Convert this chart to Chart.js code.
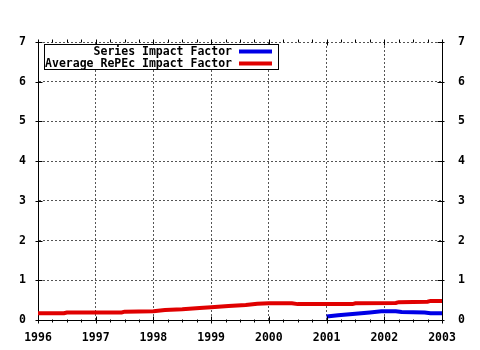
<!DOCTYPE html>
<html>
<head>
<meta charset="utf-8">
<script src="https://cdn.jsdelivr.net/npm/chart.js@4/dist/chart.umd.min.js"></script>
<style>
html,body{margin:0;padding:0;background:#fff;}
#c{display:block;}
</style>
</head>
<body>
<canvas id="c" width="480" height="350"></canvas>
<script>
// ---- data ----
const seriesNames = ["Series Impact Factor", "Average RePEc Impact Factor"];
const seriesYears = [2001.0, 2001.2, 2001.5, 2001.75, 2001.95, 2002.2, 2002.3, 2002.7, 2002.8, 2003.0];
const seriesValues = [0.09, 0.12, 0.16, 0.19, 0.22, 0.22, 0.20, 0.19, 0.17, 0.17];
const averageYears = [1996.0, 1996.45, 1996.5, 1997.45, 1997.5, 1998.0, 1998.2, 1998.5, 1998.8, 1999.0, 1999.3, 1999.6, 1999.8, 2000.0, 2000.4, 2000.5, 2001.45, 2001.5, 2002.2, 2002.25, 2002.75, 2002.8, 2003.0];
const averageValues = [0.17, 0.17, 0.19, 0.19, 0.21, 0.22, 0.25, 0.27, 0.30, 0.32, 0.35, 0.38, 0.41, 0.42, 0.42, 0.40, 0.40, 0.42, 0.43, 0.45, 0.46, 0.48, 0.48];
const yearTicks = [1996, 1997, 1998, 1999, 2000, 2001, 2002, 2003];
const yTicks = [0, 1, 2, 3, 4, 5, 6, 7];
const colors = ["#0000e6", "#e00000"];

const FONT = {family: "'DejaVu Sans Mono', monospace", size: 11.5, weight: 'bold'};
const toXY = (xs, ys) => xs.map((x, i) => ({x: x, y: ys[i]}));

const decor = {
  id: 'decor',
  afterDraw(chart) {
    const ctx = chart.ctx;
    const xs = chart.scales.x, ys = chart.scales.y;
    const a = chart.chartArea;
    const L = Math.round(a.left) + 0.5, R = Math.round(a.right) - 0.5;
    const T = Math.round(a.top) + 0.5, B = Math.round(a.bottom) - 0.5;
    ctx.save();
    ctx.strokeStyle = '#000';
    ctx.lineWidth = 1;
    ctx.beginPath();
    yTicks.forEach(v => {
      const y = Math.round(ys.getPixelForValue(v)) + 0.5;
      ctx.moveTo(L - 3, y); ctx.lineTo(L + 4, y);
      ctx.moveTo(R - 4, y); ctx.lineTo(R + 3, y);
    });
    for (let q = yearTicks[0] * 4; q <= yearTicks[yearTicks.length - 1] * 4; q++) {
      const v = q / 4;
      const x = Math.round(xs.getPixelForValue(v)) + 0.5;
      if (q % 4 === 0) {
        ctx.moveTo(x, B - 3); ctx.lineTo(x, B + 4);
        ctx.moveTo(x, T - 3); ctx.lineTo(x, T + 3);
      } else {
        ctx.moveTo(x, B); ctx.lineTo(x, B + 3);
        ctx.moveTo(x, T - 3); ctx.lineTo(x, T);
      }
    }
    ctx.stroke();

    // legend box
    const bx = 44.5, by = 44.5, bw = 234, bh = 25;
    ctx.fillStyle = '#fff';
    ctx.fillRect(bx, by, bw, bh);
    ctx.strokeRect(bx, by, bw, bh);
    ctx.font = 'bold 11.5px "DejaVu Sans Mono", monospace';
    ctx.textAlign = 'right';
    ctx.textBaseline = 'middle';
    ctx.fillStyle = '#000';
    const rows = [51.5, 63.5];
    seriesNames.forEach((name, i) => {
      ctx.fillText(name, 232, rows[i] + 0.5);
      ctx.strokeStyle = colors[i];
      ctx.lineWidth = 4;
      ctx.beginPath();
      ctx.moveTo(239, rows[i]);
      ctx.lineTo(272, rows[i]);
      ctx.stroke();
    });
    ctx.restore();
  }
};

new Chart(document.getElementById('c'), {
  type: 'line',
  data: {
    datasets: [
      {label: seriesNames[0], data: toXY(seriesYears, seriesValues), borderColor: colors[0], backgroundColor: colors[0], borderWidth: 4, pointRadius: 0, tension: 0, fill: false, borderCapStyle: 'butt'},
      {label: seriesNames[1], data: toXY(averageYears, averageValues), borderColor: colors[1], backgroundColor: colors[1], borderWidth: 4, pointRadius: 0, tension: 0, fill: false, borderCapStyle: 'butt'}
    ]
  },
  options: {
    responsive: false,
    animation: false,
    devicePixelRatio: 1,
    layout: {padding: {top: 42, left: 0, right: 0, bottom: 0}},
    plugins: {legend: {display: false}, tooltip: {enabled: false}},
    scales: {
      x: {
        type: 'linear',
        min: yearTicks[0], max: yearTicks[yearTicks.length - 1],
        afterBuildTicks: s => { s.ticks = yearTicks.map(v => ({value: v})); },
        afterFit: s => { s.height = 30; },
        ticks: {callback: v => String(v), color: '#000', font: FONT, padding: 11, maxRotation: 0, autoSkip: false},
        grid: {color: '#555', lineWidth: 1, drawTicks: false},
        border: {display: true, color: '#000', width: 1, dash: [2, 2]}
      },
      y: {
        position: 'left',
        min: 0, max: 7,
        afterBuildTicks: s => { s.ticks = yTicks.map(v => ({value: v})); },
        afterFit: s => { s.width = 38; },
        ticks: {color: '#000', font: FONT, padding: 12},
        grid: {color: '#555', lineWidth: 1, drawTicks: false},
        border: {display: true, color: '#000', width: 1, dash: [2, 2]}
      },
      y2: {
        position: 'right',
        min: 0, max: 7,
        afterBuildTicks: s => { s.ticks = yTicks.map(v => ({value: v})); },
        afterFit: s => { s.width = 38; },
        ticks: {color: '#000', font: FONT, padding: 16},
        grid: {display: false, drawTicks: false},
        border: {display: true, color: '#000', width: 1}
      }
    }
  },
  plugins: [decor]
});
</script>
</body>
</html>
